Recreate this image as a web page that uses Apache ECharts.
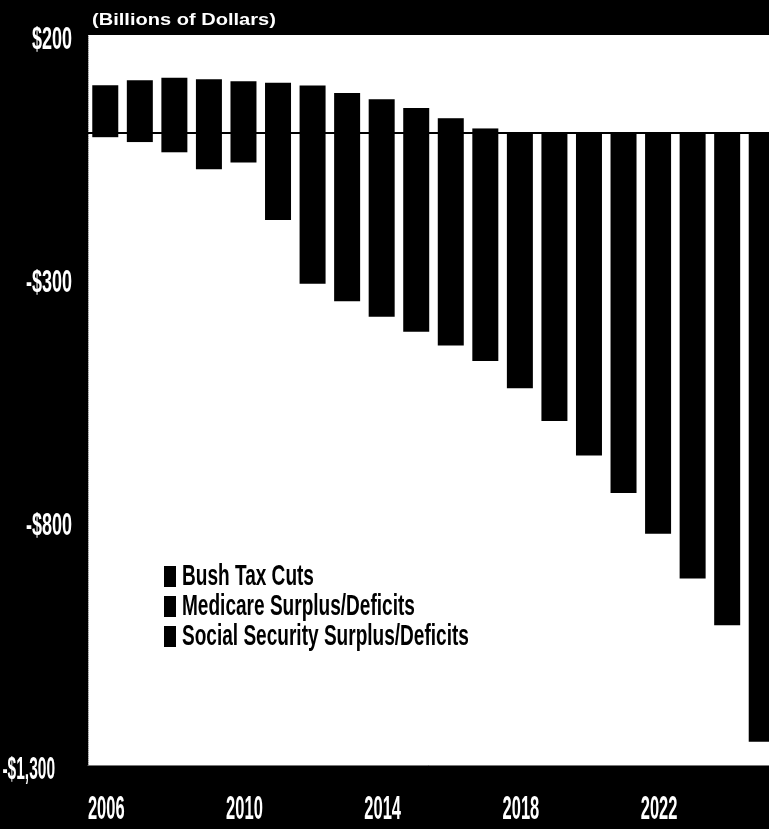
<!DOCTYPE html>
<html>
<head>
<meta charset="utf-8">
<script src="https://cdn.jsdelivr.net/npm/echarts@6/dist/echarts.min.js"></script>
<style>
  html, body { margin: 0; padding: 0; background: #000; }
  #chart { width: 769px; height: 829px; }
</style>
</head>
<body>
<div id="chart"></div>
<script>
// Fiscal years shown on the category axis
const years = ['2006', '2007', '2008', '2009', '2010', '2011', '2012', '2013', '2014', '2015',
               '2016', '2017', '2018', '2019', '2020', '2021', '2022', '2023', '2024', '2025'];

// Years that carry a label under the axis
const yearLabels = ['2006', '2010', '2014', '2018', '2022'];

// Combined balance above zero (trust-fund surpluses), billions of dollars
const surplusPart = [97, 107, 112, 109, 105, 102, 96, 81, 68, 50,
                     29, 8, 0, 0, 0, 0, 0, 0, 0, 0];

// Combined balance below zero (tax cuts plus program deficits), billions of dollars
const deficitPart = [-10, -20, -41, -76, -62, -180, -311, -347, -379, -410,
                     -438, -470, -526, -593, -664, -741, -825, -917, -1013, -1252];

// Value axis range and labelled ticks
const yMin = -1300;
const yMax = 200;
const yStep = 500;
const yTicks = [200, -300, -800, -1300];

const seriesNames = ['Bush Tax Cuts', 'Medicare Surplus/Deficits', 'Social Security Surplus/Deficits'];
const unitTitle = '(Billions of Dollars)';

const FONT = "'Liberation Sans', Arial, 'Helvetica Neue', sans-serif";

function money(v) {
  const s = '$' + Math.abs(v).toLocaleString('en-US');
  return v < 0 ? '-' + s : s;
}

// Condensed bold text: drawn at a larger size and squeezed horizontally
function squeezedText(str, x, y, size, sx, fill, align) {
  return {
    type: 'text',
    x: x,
    y: y,
    scaleX: sx,
    silent: true,
    z: 100,
    style: {
      text: str,
      fill: fill,
      fontSize: size,
      fontWeight: 'bold',
      fontFamily: FONT,
      align: align,
      textAlign: align,
      verticalAlign: 'middle',
      textVerticalAlign: 'middle'
    }
  };
}

const chart = echarts.init(document.getElementById('chart'), null, { renderer: 'canvas' });

const barBase = {
  type: 'bar',
  stack: 'total',
  barWidth: 26,
  itemStyle: { color: '#000' },
  silent: true
};

chart.setOption({
  backgroundColor: '#000',
  animation: false,
  grid: {
    show: true,
    left: 88,
    right: -10,
    top: 35,
    bottom: 64,
    containLabel: false,
    outerBoundsMode: 'none',
    backgroundColor: '#fff',
    borderWidth: 0
  },
  xAxis: {
    type: 'category',
    data: years,
    axisTick: { show: false },
    axisLabel: { show: false },
    axisLine: { onZero: false, lineStyle: { color: '#777', width: 1 } }
  },
  yAxis: {
    type: 'value',
    min: yMin,
    max: yMax,
    interval: yStep,
    splitLine: { show: false },
    axisTick: { show: false },
    axisLabel: { show: false },
    axisLine: { show: true, lineStyle: { color: '#999', width: 1, type: 'dotted' } }
  },
  series: [
    Object.assign({}, barBase, {
      name: seriesNames[0],
      data: deficitPart,
      markLine: {
        silent: true,
        symbol: 'none',
        label: { show: false },
        lineStyle: { color: '#000', width: 2, type: 'solid' },
        data: [{ yAxis: 0 }]
      }
    }),
    Object.assign({}, barBase, { name: seriesNames[1], data: [] }),
    Object.assign({}, barBase, { name: seriesNames[2], data: surplusPart })
  ]
});

// Axis labels, legend and unit title, placed through the chart's own axes
const extras = [];

yTicks.forEach(t => {
  const py = chart.convertToPixel({ yAxisIndex: 0 }, t);
  // the longest label sits tighter against the left edge
  const isBottom = t === yMin;
  extras.push(squeezedText(money(t), isBottom ? 55 : 72, py + 5, 31, isBottom ? 0.5 : 0.58, '#fff', 'right'));
});

yearLabels.forEach(yr => {
  const px = chart.convertToPixel({ xAxisIndex: 0 }, yr);
  extras.push(squeezedText(yr, px + 1, 810, 33, 0.5, '#fff', 'center'));
});

seriesNames.forEach((name, i) => {
  const cy = 576 + i * 30;
  extras.push({
    type: 'rect',
    silent: true,
    z: 100,
    shape: { x: 164, y: cy - 10, width: 12, height: 21 },
    style: { fill: '#000' }
  });
  extras.push(squeezedText(name, 182, cy + 1, 30, 0.635, '#000', 'left'));
});

extras.push({
  type: 'text',
  x: 92,
  y: 20,
  scaleX: 1.18,
  silent: true,
  z: 100,
  style: {
    text: unitTitle,
    fill: '#fff',
    fontSize: 17,
    fontWeight: 'bold',
    fontFamily: FONT,
    align: 'left',
    textAlign: 'left',
    verticalAlign: 'middle',
    textVerticalAlign: 'middle'
  }
});

chart.setOption({ graphic: { elements: extras } });
</script>
</body>
</html>
